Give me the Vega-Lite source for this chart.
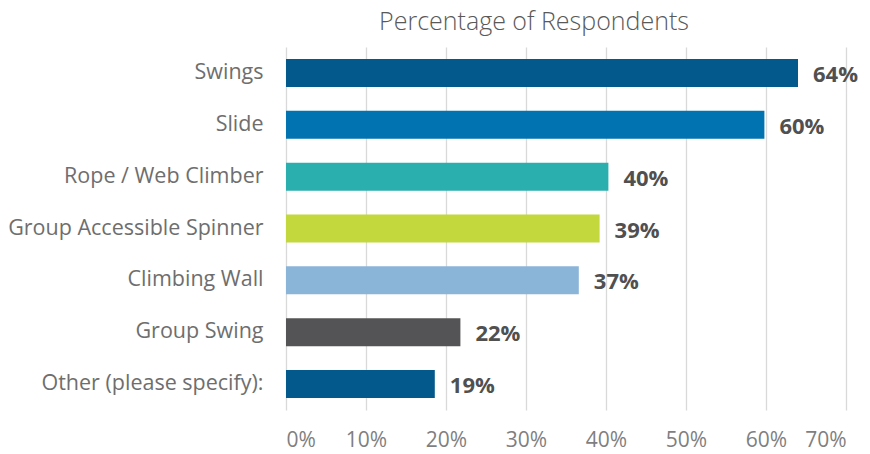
{
  "$schema": "https://vega.github.io/schema/vega-lite/v6.json",
  "autosize": "none",
  "width": 560,
  "height": 363,
  "padding": {"left": 286, "top": 47, "right": 24, "bottom": 44},
  "background": "white",
  "title": {
    "text": "Percentage of Respondents",
    "anchor": "middle",
    "dx": -32,
    "offset": 12,
    "font": "Open Sans",
    "fontSize": 25,
    "fontWeight": 300,
    "color": "#595959"
  },
  "config": {
    "view": {"stroke": null},
    "font": "Open Sans"
  },
  "data": {
    "values": [
      {"item": "Swings", "value": 0.640, "color": "#04598C"},
      {"item": "Slide", "value": 0.598, "color": "#0073B0"},
      {"item": "Rope / Web Climber", "value": 0.403, "color": "#2BAEAE"},
      {"item": "Group Accessible Spinner", "value": 0.392, "color": "#C2D83C"},
      {"item": "Climbing Wall", "value": 0.366, "color": "#8AB4D8"},
      {"item": "Group Swing", "value": 0.218, "color": "#545456"},
      {"item": "Other (please specify):", "value": 0.186, "color": "#04598C"}
    ]
  },
  "encoding": {
    "y": {
      "field": "item",
      "type": "nominal",
      "sort": null,
      "scale": {"paddingInner": 0.46, "paddingOuter": 0.23},
      "axis": {
        "title": null,
        "domain": false,
        "ticks": false,
        "labelPadding": 23,
        "labelLimit": 0,
        "labelFontSize": 21.5,
        "labelColor": "#6E6E6E",
        "labelFont": "Open Sans"
      }
    },
    "x": {
      "field": "value",
      "type": "quantitative",
      "scale": {"domain": [0, 0.7], "nice": false},
      "axis": {
        "title": null,
        "format": ".0%",
        "values": [0, 0.1, 0.2, 0.3, 0.4, 0.5, 0.6, 0.7],
        "domain": false,
        "ticks": false,
        "grid": true,
        "gridColor": "#D9D9D9",
        "gridWidth": 1.3,
        "labelPadding": 19,
        "labelFontSize": 21,
        "labelColor": "#7F7F7F",
        "labelFont": "Open Sans"
      }
    }
  },
  "layer": [
    {
      "mark": {"type": "bar"},
      "encoding": {
        "color": {"field": "color", "type": "nominal", "scale": null, "legend": null}
      }
    },
    {
      "mark": {
        "type": "text",
        "align": "left",
        "baseline": "middle",
        "dx": 15,
        "dy": 2,
        "fontSize": 22,
        "fontWeight": "bold",
        "color": "#505050",
        "font": "Open Sans"
      },
      "encoding": {
        "text": {"field": "value", "type": "quantitative", "format": ".0%"}
      }
    }
  ]
}
